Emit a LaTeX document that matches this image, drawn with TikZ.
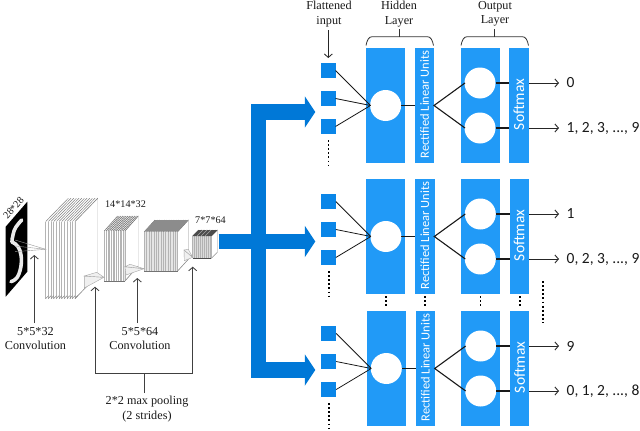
\documentclass[tikz,border=0pt]{standalone}
\usepackage{fontspec}
\setmainfont{Liberation Serif}
\newfontfamily\calfont{Carlito}
\usetikzlibrary{arrows.meta}
\definecolor{blockblue}{HTML}{219AF7}
\definecolor{squareblue}{HTML}{0A86E8}
\definecolor{busblue}{HTML}{0078D7}
\definecolor{sheetgray}{HTML}{B4B4B4}
\tikzset{
  block/.style={fill=blockblue,draw=none,anchor=north west,inner sep=0pt,outer sep=0pt,minimum height=115.3pt},
  wideblock/.style={block,minimum width=39pt},
  narrowblock/.style={block,minimum width=19.3pt},
  square/.style={fill=squareblue,draw=none,inner sep=0pt,outer sep=0pt,minimum size=15pt},
  neuron/.style={circle,fill=white,draw=none,inner sep=0pt,outer sep=0pt,minimum size=31pt},
  wire/.style={draw=black!90,line width=.8pt},
  outwire/.style={draw=black!85,line width=.9pt,-{Straight Barb[length=3.5pt,width=8pt]}},
  vdots/.style={draw=black,line width=1.9pt,dash pattern=on 1.9pt off 2.2pt},
  rlabel/.style={text=white,rotate=90,font=\calfont\fontsize{12.5}{13}\selectfont,inner sep=0pt},
  slabel/.style={text=white,rotate=90,font=\calfont\fontsize{15.5}{16}\selectfont,inner sep=0pt},
  outlabel/.style={anchor=west,font=\calfont\fontsize{15.5}{16}\selectfont,inner sep=0pt,text=black!90},
  serif/.style={font=\fontsize{12.2}{14.5}\selectfont,align=center,inner sep=0pt,text=black!90},
  smallserif/.style={font=\fontsize{10.2}{12}\selectfont,inner sep=0pt,text=black!90},
  note/.style={draw=black!75,line width=.85pt},
  notearrow/.style={note,-{Straight Barb[length=3.5pt,width=8pt]}},
  bus/.style={draw=busblue,line width=15.5pt,-{Triangle[length=10.5pt,width=31pt]}},
  brace/.style={draw=black!80,line width=.8pt},
  field/.style={draw=black!35,line width=.4pt,fill=black!6},
}
% x, top y, bottom y, sheets, spacing, dx, dy, top colour
\newcommand{\mystack}[8]{%
  \pgfmathsetmacro{\xe}{#1+#4*#5}
  \fill[white,draw=black!25,line width=.4pt] (\xe,#2) -- ++(#6,-#7) -- ++(0,#3-#2) -- (\xe,#3) -- cycle;
  \foreach \i in {0,...,#4}{
    \pgfmathsetmacro{\xx}{#1+\i*#5}
    \draw[#8,line width=.5pt] (\xx,#2) -- ++(#6,-#7);
    \draw[sheetgray,line width=.45pt] (\xx,#2) -- (\xx,#3);
  }
  \draw[black!45,line width=.5pt] (\xe,#3) -- ++(#6,-#7);
}
\begin{document}
\begin{tikzpicture}[x=1pt,y=-1pt]
\useasboundingbox (0,0) rectangle (640,431);

% digit image
\fill[black] (5.7,226.7) -- (27.3,201.7) -- (27.3,271.7) -- (5.7,296.7) -- cycle;
\draw[white!92!black,line width=3.6pt,line cap=round,line join=round]
  (21.7,220) .. controls (17,225) and (14,229) .. (13.2,234)
  .. controls (12.5,238) and (11.5,241) .. (12,242)
  .. controls (17,244) and (20,248) .. (21,255)
  .. controls (22.5,263) and (20,274) .. (16.7,278)
  .. controls (15,280) and (13,281) .. (11,281.7);
\node[smallserif,rotate=49] (digitlabel) at (13.5,208) {28*28};
\draw[black!40,line width=.4pt] (15,240) -- (45.7,249.3) -- (15,251.7);
\draw[black!40,line width=.4pt] (15,246) -- (45.7,249.3);

% feature stacks
\mystack{45.7}{221.5}{298.5}{11}{2.67}{22.7}{23.3}{black!50}
\foreach \i in {0,...,11}{
  \pgfmathsetmacro{\xx}{45.7+\i*2.67}
  \draw[black!50,line width=.5pt] (\xx,298.5) -- ++(2.7,-2.8);
}
\mystack{104.3}{231}{281}{12}{1.72}{13.3}{15}{black!60}
\draw[black!55,line width=1pt] (104.3,281) -- (125,281);
\fill[black!10] (144.3,231.7) rectangle (177.7,271);
\mystack{144.3}{231.7}{271}{14}{2.38}{10.7}{11.7}{black!60}
\fill[black!45] (144.3,231.7) -- ++(10.7,-11.7) -- (188.3,220) -- (177.7,231.7) -- cycle;
\draw[black!55,line width=.7pt] (144.3,271) -- (177.7,271);
\mystack{192.7}{236}{258.3}{12}{1.55}{6}{6}{black!85}
\fill[black!14] (192.7,236) rectangle (211.3,258.3);
\foreach \xv in {194,196,...,210} \draw[black!30,line width=.4pt] (\xv,236) -- (\xv,258.3);
\fill[black!70] (192.7,236) -- ++(6,-6) -- (217.3,230) -- (211.3,236) -- cycle;
\foreach \xv in {197,201,205} \draw[black!35,line width=.5pt] (\xv,236) -- ++(6,-6);
\draw[black!70,line width=1pt] (192.7,258.3) -- (211.3,258.3);

% receptive fields
\draw[field] (84.3,276) -- (104,277.3) -- (84.3,288) -- cycle;
\draw[field] (84.3,276) -- (96.7,272.3) -- (104,277.3) -- cycle;
\draw[field] (125,266.7) -- (144,268.7) -- (126,275) -- cycle;
\draw[field] (125,266.7) -- (130,264.3) -- (144,268.7) -- cycle;
\draw[field] (184,250) -- (192.7,257.3) -- (184.3,260.7) -- cycle;
\draw[field] (184,250) -- (188.3,249.3) -- (192.7,257.3) -- cycle;

\node[smallserif] (lab14) at (125.5,204.5) {14*14*32};
\node[smallserif] (lab7) at (210.5,220.5) {7*7*64};

% annotations below the stacks
\node[serif] (conv1) at (35.5,338.5) {5*5*32\\Convolution};
\node[serif] (conv2) at (140,338.5) {5*5*64\\Convolution};
\node[serif] (pool) at (147,409) {2*2 max pooling\\(2 strides)};
\coordinate (tip1) at (34.3,255);
\coordinate (tip2) at (137.3,278);
\coordinate (tip3) at (95,286.7);
\coordinate (tip4) at (192.7,266.7);
\coordinate (pooljoin) at (144,373.3);
\coordinate (poolstem) at (144,393);
\draw[notearrow] (34.3,323) -- (tip1);
\draw[notearrow] (137.3,323) -- (tip2);
\draw[note] (poolstem) -- (pooljoin);
\draw[notearrow] (pooljoin) -| (tip3);
\draw[notearrow] (pooljoin) -| (tip4);

% bus
\coordinate (busstart) at (218.7,241.5);
\coordinate (busjoin) at (258.3,241.5);
\coordinate (bustop) at (315.3,112);
\coordinate (busmid) at (315.3,241.5);
\coordinate (busbot) at (315.3,370);
\draw[bus] (busjoin) -- (258.3,112) -- (bustop);
\draw[bus] (busjoin) -- (258.3,370) -- (busbot);
\draw[bus] (busstart) -- (busmid);

% three networks
\foreach \p/\dx/\yo/\la/\lb in {a/0/48/0/{1, 2, 3, ..., 9},b/0.3/179/1/{0, 2, 3, ..., 9},c/0.7/311/9/{0, 1, 2, ..., 8}}{
  \node[wideblock] (\p hid) at (366+\dx,\yo) {};
  \node[narrowblock] (\p rlu) at (415+\dx,\yo) {};
  \node[wideblock] (\p out) at (460.7+\dx,\yo) {};
  \node[narrowblock] (\p soft) at (509.2+\dx,\yo) {};
  \node[rlabel] (\p rtext) at (424.6+\dx,\yo+56.5) {Rectified Linear Units};
  \node[slabel] (\p stext) at (518.8+\dx,\yo+56.5) {Softmax};
  \node[square] (\p s1) at (328+\dx,\yo+22.5) {};
  \node[square] (\p s2) at (328+\dx,\yo+50.5) {};
  \node[square] (\p s3) at (328+\dx,\yo+78.5) {};
  \node[neuron] (\p h) at (385.6+\dx,\yo+57.5) {};
  \node[neuron] (\p o1) at (480+\dx,\yo+35) {};
  \node[neuron] (\p o2) at (480+\dx,\yo+80) {};
  \coordinate (\p in) at (370.5+\dx,\yo+57.5);
  \coordinate (\p split) at (434+\dx,\yo+57.5);
  \coordinate (\p i1) at (465+\dx,\yo+35);
  \coordinate (\p i2) at (465+\dx,\yo+80);
  \foreach \s in {1,2,3}
    \draw[wire] (\p s\s.east) -- (\p in);
  \draw[wire] (\p h.east) -- (\p rlu.west |- \p h.east);
  \draw[wire,line width=1.1pt] (\p i1) -- (\p split) -- (\p i2);
  \draw[wire,line width=1.1pt] (\p o1.east) -- (\p soft.west |- \p o1.east);
  \draw[wire,line width=1.1pt] (\p o2.east) -- (\p soft.west |- \p o2.east);
  \node[outlabel] (\p l1) at (566.5,\yo+35) {\la};
  \node[outlabel] (\p l2) at (566.5,\yo+80) {\lb};
  \coordinate (\p t1) at (559,\yo+35);
  \coordinate (\p t2) at (559,\yo+80);
  \draw[outwire] (\p soft.east |- \p l1) -- (\p t1);
  \draw[outwire] (\p soft.east |- \p l2) -- (\p t2);
  \draw[vdots] (328.5+\dx,\yo+92) -- (328.5+\dx,\yo+118);
}

% dots between networks
\foreach \xd in {386,425,480.5,520}
  \draw[vdots] (\xd,296) -- (\xd,308);
\draw[vdots] (542.7,281) -- (542.7,323);

% headers
\node[serif] (flat) at (329,14) {Flattened\\input};
\node[serif] (hidlab) at (399,14) {Hidden\\Layer};
\node[serif] (outlab) at (495,14) {Output\\Layer};
\coordinate (flatstart) at (328.3,30);
\coordinate (flatend) at (328.3,58);
\draw[note,draw=black!85,-{Straight Barb[length=3.5pt,width=8pt]}] (flatstart) -- (flatend);
\foreach \xa/\xb/\xc in {366/399/433.5,461/494.5/528.5}{
  \draw[brace] (\xa,45.5) .. controls (\xa+1,40) and (\xa+3,36.7) .. (\xa+6,36.7)
    -- (\xc-6,36.7) .. controls (\xc-3,36.7) and (\xc-1,40) .. (\xc,45.5);
  \draw[brace] (\xb,29) -- (\xb,36.7);
}
\end{tikzpicture}
\end{document}
